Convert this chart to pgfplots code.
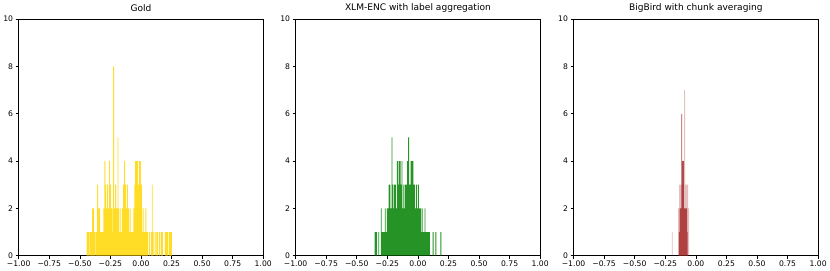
\documentclass[border=0pt]{standalone}
\usepackage{pgfplots}
\pgfplotsset{compat=1.18}
\usepackage{pgfplotstable}
\usepackage{fontspec}
\setmainfont{DejaVu Sans}
\definecolor{cgold}{HTML}{FFD700}
\definecolor{cgreen}{HTML}{008000}
\definecolor{cbrown}{HTML}{A52A2A}

\pgfplotstableread{
x h
-0.440 1
-0.433 1
-0.425 1
-0.415 1
-0.405 1
-0.395 2
-0.388 2
-0.380 1
-0.370 1
-0.362 1
-0.354 3
-0.346 2
-0.338 2
-0.330 1
-0.320 1
-0.312 1
-0.303 2
-0.295 4
-0.288 3
-0.280 2
-0.272 3
-0.265 2
-0.257 4
-0.250 3
-0.243 2
-0.236 2
-0.229 1
-0.224 8
-0.215 2
-0.207 3
-0.200 2
-0.193 2
-0.188 5
-0.180 2
-0.172 1
-0.165 2
-0.157 1
-0.150 2
-0.142 3
-0.133 4
-0.126 3
-0.118 2
-0.110 3
-0.103 2
-0.095 1
-0.088 2
-0.080 1
-0.072 1
-0.065 1
-0.058 2
-0.050 3
-0.043 4
-0.036 4
-0.028 4
-0.020 3
-0.012 4
-0.005 4
0.003 3
0.010 1
0.018 2
0.025 1
0.033 1
0.040 2
0.048 1
0.055 1
0.070 1
0.085 1
0.092 3
0.100 1
0.115 1
0.125 1
0.135 1
0.150 1
0.165 1
0.175 1
0.200 1
0.210 1
0.220 1
0.235 1
0.243 1
0.250 1
}\gold

\pgfplotstableread{
x h
-0.350 1
-0.340 1
-0.320 1
-0.300 2
-0.292 1
-0.285 1
-0.275 1
-0.267 2
-0.260 1
-0.250 2
-0.243 2
-0.235 3
-0.228 3
-0.220 2
-0.212 5
-0.205 3
-0.198 2
-0.190 3
-0.183 3
-0.175 2
-0.168 4
-0.160 3
-0.153 4
-0.145 4
-0.138 3
-0.130 4
-0.123 2
-0.115 3
-0.108 2
-0.100 3
-0.093 3
-0.085 4
-0.076 5
-0.070 3
-0.062 3
-0.055 4
-0.048 4
-0.040 4
-0.033 3
-0.026 3
-0.018 2
-0.010 3
-0.003 2
0.005 3
0.012 2
0.020 2
0.028 1
0.035 2
0.043 1
0.050 1
0.058 2
0.065 1
0.075 1
0.085 1
0.095 1
0.125 1
0.147 1
0.188 1
}\green

\pgfplotstableread{
x h
-0.135 1
-0.130 2
-0.125 2
-0.120 2
-0.115 6
-0.110 4
-0.105 4
-0.100 4
-0.095 2
-0.090 2
-0.085 2
-0.080 2
-0.075 2
-0.070 1
}\reddark

\pgfplotstableread{
x h
-0.193 1
-0.140 2
-0.132 3
-0.124 3
-0.116 3
-0.108 3
-0.100 3
-0.092 7
-0.084 3
-0.076 3
-0.068 3
-0.058 2
}\redlight

\pgfplotsset{
  myax/.style={
    scale only axis, width=242bp, height=234bp,
    xmin=-1, xmax=1, ymin=0, ymax=10,
    xtick={-1,-0.75,-0.5,-0.25,0,0.25,0.5,0.75,1},
    xticklabels={−1.00,−0.75,−0.50,−0.25,0.00,0.25,0.50,0.75,1.00},
    ytick={0,2,4,6,8,10},
    tick align=outside, tick pos=left,
    major tick length=3bp,
    tick style={black, line width=0.6pt},
    axis line style={line width=0.6pt},
    ticklabel style={font=\fontsize{7.6}{9}\selectfont},
    /pgf/number format/assume math mode=true,
    title style={font=\fontsize{9}{11}\selectfont, yshift=-2.5bp},
    xticklabel style={yshift=1bp},
    yticklabel style={xshift=1bp},
  },
}

\begin{document}
\begin{tikzpicture}
\begin{axis}[myax, title={Gold}]
\addplot[ybar, bar shift=0pt, bar width=0.0075, fill=cgold, fill opacity=0.85, draw=none] table {\gold};
\end{axis}
\begin{axis}[myax, xshift=274bp, title={XLM-ENC with label aggregation}]
\addplot[ybar, bar shift=0pt, bar width=0.0075, fill=cgreen, fill opacity=0.85, draw=none] table {\green};
\end{axis}
\begin{axis}[myax, xshift=549bp, title={BigBird with chunk averaging}]
\addplot[ybar, bar shift=0pt, bar width=0.008, fill=cbrown, fill opacity=0.3, draw=none] table {\redlight};
\addplot[ybar, bar shift=0pt, bar width=0.006, fill=cbrown, fill opacity=0.85, draw=none] table {\reddark};
\end{axis}
\end{tikzpicture}
\end{document}
